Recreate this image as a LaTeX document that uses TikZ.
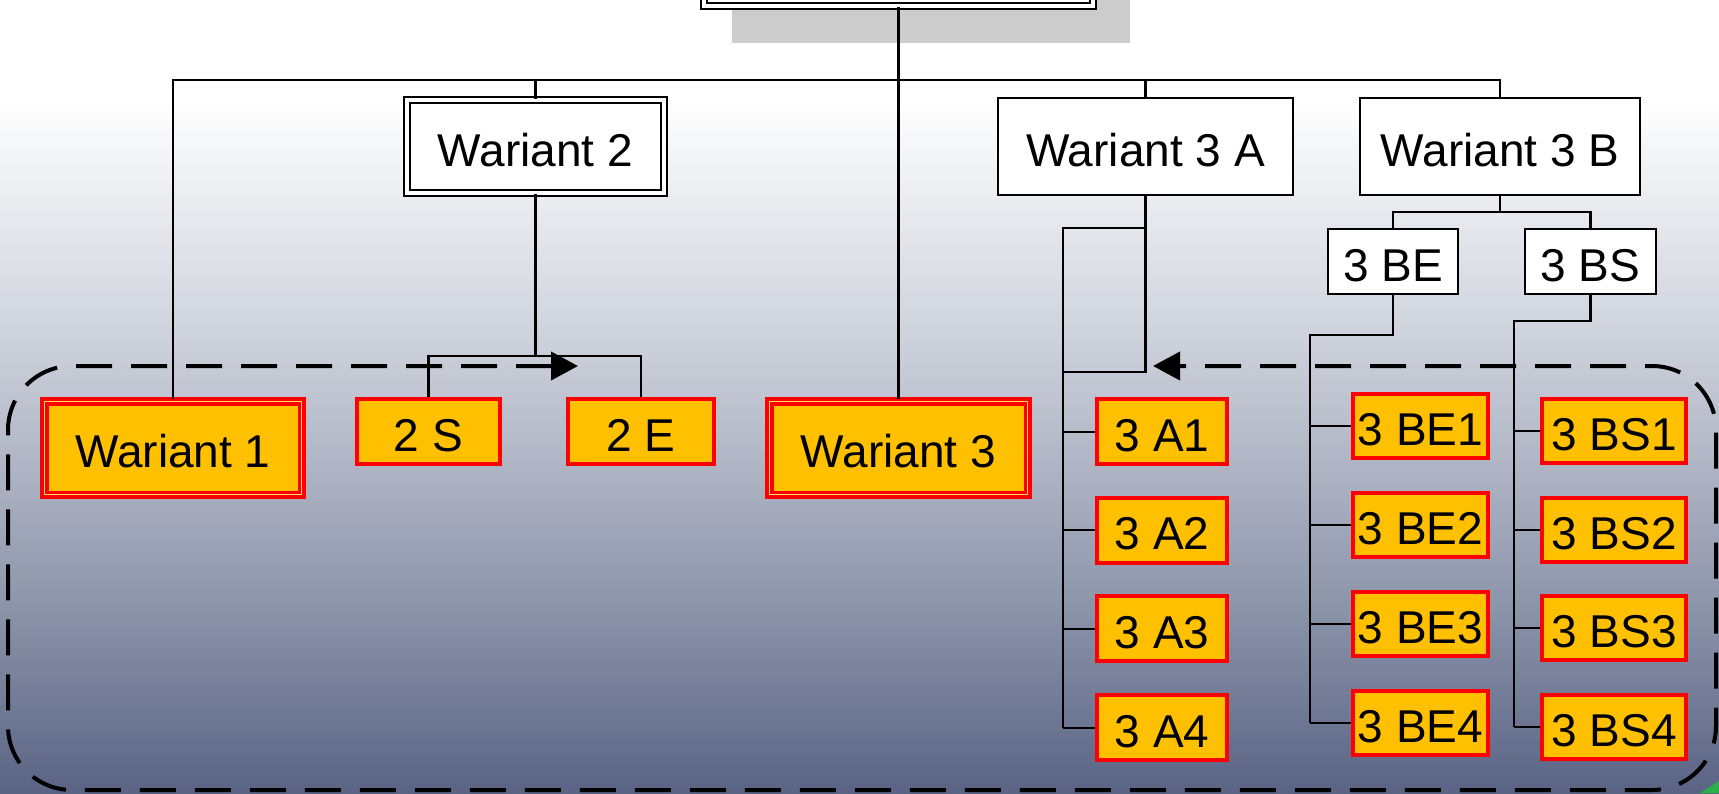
\documentclass[tikz,border=0pt]{standalone}
\usepackage{fontspec}
\setmainfont{Liberation Sans}
\usetikzlibrary{arrows.meta}
\definecolor{orangefill}{HTML}{FFC000}
\definecolor{bgA}{HTML}{CDD1DB}
\definecolor{bgB}{HTML}{8E96AB}
\definecolor{bgC}{HTML}{5A6384}
\definecolor{shadowgray}{HTML}{CCCCCC}
\definecolor{cornergreen}{HTML}{2BB04A}
\definecolor{midline}{HTML}{FFE060}
\begin{document}
\begin{tikzpicture}[x=0.5pt,y=-0.5pt,
  every node/.style={font=\fontsize{23pt}{27pt}\selectfont, inner sep=0pt, text=black, rectangle,
    text height=19.5pt, text depth=0pt},
  whitebox/.style={draw=black, line width=1pt, fill=white},
  dblbox/.style={draw=black, line width=0.9pt, double=white, double distance=2.2pt},
  leaf/.style={draw=red, line width=2pt, fill=orangefill},
  bigleaf/.style={draw=red, line width=1.9pt, double=midline, double distance=0.5pt, fill=orangefill},
  link/.style={draw=black, line width=1.1pt},
  tick/.style={draw=black, line width=1pt},
  flow/.style={draw=black, line width=2pt, dash pattern=on 18pt off 9.5pt, rounded corners=32pt,
    {Triangle[length=13.5pt,width=14pt]}-{Triangle[length=13.5pt,width=14pt]}}
]
\useasboundingbox (0,0) rectangle (1719,793);
\clip (0,0) rectangle (1719,793);
% background
\fill[white] (0,0) rectangle (1719,101);
\shade[top color=white, bottom color=bgA] (0,100) rectangle (1719,341);
\shade[top color=bgA, bottom color=bgB] (0,340) rectangle (1719,601);
\shade[top color=bgB, bottom color=bgC] (0,600) rectangle (1719,793);
\fill[cornergreen] (1700,793) -- (1719,781) -- (1719,793) -- cycle;
% shadow of top box
\fill[shadowgray] (732,-60) rectangle (1130,43);

% nodes
\node[dblbox, fill=white, minimum width=194.5pt, minimum height=46pt] (top) at (898.5,-40) {};
\node[dblbox, fill=white, minimum width=128.5pt, minimum height=46.5pt] (W2) at (535.5,146.5) {Wariant 2};
\node[whitebox, minimum width=147.5pt, minimum height=48.5pt] (W3A) at (1145.5,146.5) {Wariant 3 A};
\node[whitebox, minimum width=140pt, minimum height=48.5pt] (W3B) at (1500,146.5) {Wariant 3 B};
\node[whitebox, minimum width=65pt, minimum height=32.5pt] (BE) at (1393,261.5) {3 BE};
\node[whitebox, minimum width=65.5pt, minimum height=32.5pt] (BS) at (1590.5,261.5) {3 BS};

\node[bigleaf, minimum width=128.8pt, minimum height=46.8pt] (W1) at (173,448) {Wariant 1};
\node[bigleaf, minimum width=129.3pt, minimum height=46.8pt] (W3) at (898.5,448) {Wariant 3};
\node[leaf, minimum width=71.5pt, minimum height=32.5pt] (S2) at (428.5,431.5) {2 S};
\node[leaf, minimum width=73pt, minimum height=32.5pt] (E2) at (641,431.5) {2 E};

\node[leaf, minimum width=65pt, minimum height=32.5pt] (A1) at (1162,431.5) {3 A1};
\node[leaf, minimum width=65pt, minimum height=32.5pt] (A2) at (1162,530) {3 A2};
\node[leaf, minimum width=65pt, minimum height=32.5pt] (A3) at (1162,628.5) {3 A3};
\node[leaf, minimum width=65pt, minimum height=32.5pt] (A4) at (1162,727.5) {3 A4};

\node[leaf, minimum width=67.5pt, minimum height=32pt] (BE1) at (1420.5,426) {3 BE1};
\node[leaf, minimum width=67.5pt, minimum height=32pt] (BE2) at (1420.5,524.5) {3 BE2};
\node[leaf, minimum width=67.5pt, minimum height=32pt] (BE3) at (1420.5,623.5) {3 BE3};
\node[leaf, minimum width=67.5pt, minimum height=32pt] (BE4) at (1420.5,722.5) {3 BE4};

\node[leaf, minimum width=72pt, minimum height=32pt] (BS1) at (1614,430.5) {3 BS1};
\node[leaf, minimum width=72pt, minimum height=32pt] (BS2) at (1614,529.5) {3 BS2};
\node[leaf, minimum width=72pt, minimum height=32pt] (BS3) at (1614,627.5) {3 BS3};
\node[leaf, minimum width=72pt, minimum height=32pt] (BS4) at (1614,727) {3 BS4};

% connectors
\coordinate (busY) at (0,80);
\draw[link] (top.south) -- (W3.north);
\draw[link] (W1.north) -- (W1.north |- busY) -- (W3B.north |- busY) -- (W3B.north);
\draw[link] (W2.north) -- (W2.north |- busY);
\draw[link] (W3A.north) -- (W3A.north |- busY);

\coordinate (c2) at (0,356);
\draw[link] (W2.south) -- (W2.south |- c2);
\draw[link] (S2.north) -- (S2.north |- c2) -- (E2.north |- c2) -- (E2.north);

\coordinate (aTop) at (1063,228);
\coordinate (aMid) at (1063,372);
\draw[link] (W3A.south) -- (W3A.south |- aMid) -- (aMid);
\draw[link] (W3A.south |- aTop) -- (aTop) -- (aTop |- A4.west);
\foreach \n in {A1,A2,A3,A4}{\draw[tick] (aTop |- \n.west) -- (\n.west);}

\coordinate (bY) at (0,212);
\draw[link] (W3B.south) -- (W3B.south |- bY);
\draw[link] (BE.north) -- (BE.north |- bY) -- (BS.north |- bY) -- (BS.north);
\coordinate (beX) at (1310,335);
\coordinate (bsX) at (1514,321);
\draw[link] (BE.south) -- (BE.south |- beX) -- (beX) -- (beX |- BE4.west);
\draw[link] (BS.south) -- (BS.south |- bsX) -- (bsX) -- (bsX |- BS4.west);
\foreach \n in {BE1,BE2,BE3,BE4}{\draw[tick] (beX |- \n.west) -- (\n.west);}
\foreach \n in {BS1,BS2,BS3,BS4}{\draw[tick] (bsX |- \n.west) -- (\n.west);}

% dashed feedback frame
\coordinate (f1) at (578,366);
\coordinate (f2) at (1153,366);
\coordinate (fTL) at (8,366);
\coordinate (fBL) at (8,790);
\coordinate (fBR) at (1716,790);
\coordinate (fTR) at (1716,366);
\draw[flow] (f1) -- (fTL) -- (fBL) -- (fBR) -- (fTR) -- (f2);
\end{tikzpicture}
\end{document}
